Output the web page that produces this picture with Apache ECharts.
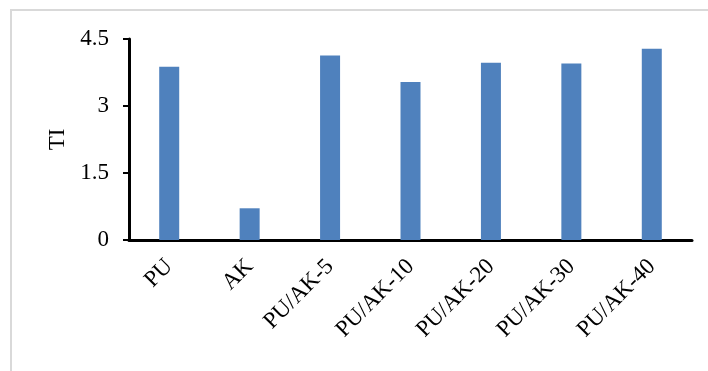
<!DOCTYPE html>
<html>
<head>
<meta charset="utf-8">
<script src="https://cdn.jsdelivr.net/npm/echarts@6/dist/echarts.min.js"></script>
<style>
  html, body { margin: 0; padding: 0; background: #fff; }
  #chart { width: 708px; height: 371px; }
</style>
</head>
<body>
<div id="chart"></div>
<script>
// Sample names along the x axis
const categories = ['PU', 'AK', 'PU/AK-5', 'PU/AK-10', 'PU/AK-20', 'PU/AK-30', 'PU/AK-40'];
// TI value per sample
const tiValues = [3.88, 0.71, 4.13, 3.54, 3.97, 3.95, 4.28];
// Value axis range and step
const yMin = 0;
const yMax = 4.5;
const yStep = 1.5;

const serif = '"Liberation Serif", "Times New Roman", serif';

const chart = echarts.init(document.getElementById('chart'));
chart.setOption({
  backgroundColor: '#ffffff',
  animation: false,
  graphic: [{
    type: 'rect',
    shape: { x: 11, y: 10, width: 760, height: 420 },
    style: { fill: 'none', stroke: '#d9d9d9', lineWidth: 2 },
    silent: true
  }],
  grid: { left: 129, right: 16, top: 39, bottom: 131, containLabel: false },
  xAxis: {
    type: 'category',
    data: categories,
    axisLine: { lineStyle: { color: '#000', width: 3 } },
    axisTick: { show: false },
    axisLabel: {
      rotate: 45,
      margin: 23,
      color: '#000',
      fontFamily: serif,
      fontSize: 23,
      interval: 0
    }
  },
  yAxis: {
    type: 'value',
    min: yMin,
    max: yMax,
    interval: yStep,
    name: 'TI',
    nameLocation: 'middle',
    nameGap: 60,
    nameTextStyle: { color: '#000', fontFamily: serif, fontSize: 23 },
    axisLine: { show: true, lineStyle: { color: '#000', width: 3 } },
    axisTick: { show: true, length: 6, lineStyle: { color: '#000', width: 2 } },
    splitLine: { show: false },
    axisLabel: {
      margin: 20,
      color: '#000',
      fontFamily: serif,
      fontSize: 23,
      formatter: v => String(v)
    }
  },
  series: [{
    type: 'bar',
    data: tiValues,
    barWidth: 20,
    itemStyle: { color: '#4F81BD' }
  }]
});
</script>
</body>
</html>
